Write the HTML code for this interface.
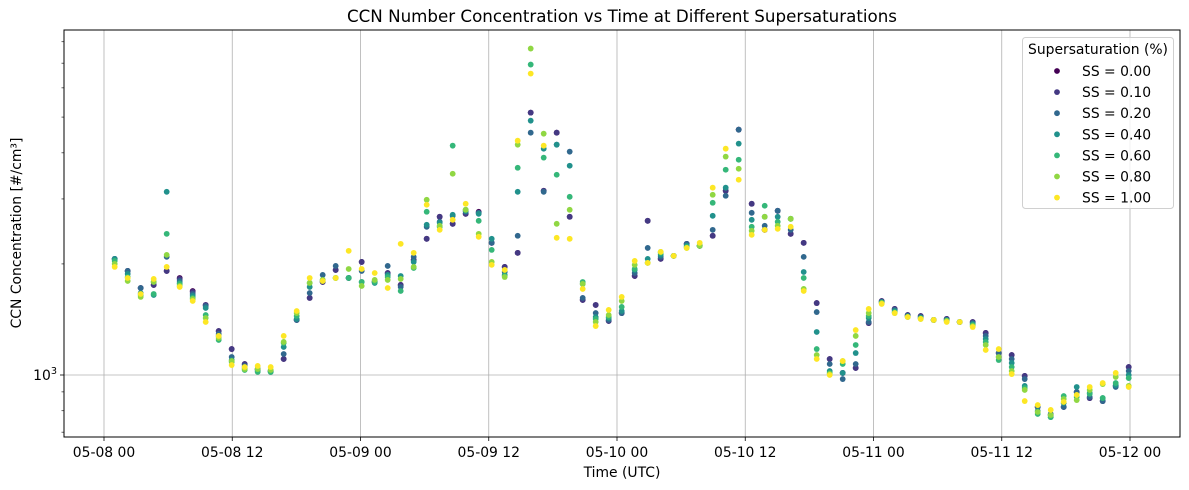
<!DOCTYPE html>
<html><head><meta charset="utf-8"><title>CCN Number Concentration vs Time</title>
<style>
html,body{margin:0;padding:0;background:#fff;}
svg{display:block;font-family:"DejaVu Sans","Liberation Sans",sans-serif;}
</style></head>
<body>
<svg id="chart" width="1189" height="490" viewBox="0 0 1189 490" xmlns="http://www.w3.org/2000/svg">
<rect width="1189" height="490" fill="#fff"/>
<text x="622" y="22" font-size="16.7" text-anchor="middle">CCN Number Concentration vs Time at Different Supersaturations</text>
<text x="622" y="477" font-size="13.9" text-anchor="middle">Time (UTC)</text>
<text transform="translate(21,233) rotate(-90)" font-size="13.9" text-anchor="middle">CCN Concentration [#/cm³]</text>
<g id="grid"></g>
<g id="marks"></g>
<g id="axes"></g>
<g id="legend"></g>
</svg>
<script>
const xTickHours = [0, 12, 24, 36, 48, 60, 72, 84, 96];
const xTickLabels = ["05-08 00","05-08 12","05-09 00","05-09 12","05-10 00","05-10 12","05-11 00","05-11 12","05-12 00"];
const yMinorTicks = [700, 800, 900, 2000, 3000, 4000, 5000, 6000, 7000, 8000];
const seriesLabels = ["SS = 0.00","SS = 0.10","SS = 0.20","SS = 0.40","SS = 0.60","SS = 0.80","SS = 1.00"];
const seriesColors = ["#440154","#443983","#31688e","#21918c","#35b779","#90d743","#fde725"];
const sampleStepHours = 1.2164;
const firstSampleHour = 1.0;

const ss000 = [2064,1914,1721,1754,1914,1832,1689,1548,1316,1176,1071,1038,1025,1105,1410,1618,1787,1926,1832,2025,1787,1890,1754,2051,2339,2684,2569,2734,2769,2281,1963,2143,5140,3157,4536,2684,1597,1548,1401,1472,1855,2617,2064,2103,2267,2239,2384,3157,4622,2911,2474,2786,2413,2281,1567,1105,1013,1045,1383,1587,1510,1454,1445,1410,1419,1392,1392,1300,1147,1133,994,819,779,819,899,866,850,934,1051];
const ss010 = [2064,1914,1721,1754,1914,1821,1679,1548,1316,1176,1071,1038,1025,1105,1410,1618,1787,1926,1832,2025,1787,1890,1754,2051,2339,2684,2569,2734,2751,2281,1963,2143,5140,3157,4536,2684,1597,1548,1401,1472,1855,2617,2064,2103,2267,2239,2384,3157,4622,2911,2474,2786,2413,2281,1567,1105,1013,1045,1383,1587,1510,1454,1445,1410,1419,1392,1392,1300,1147,1133,994,819,779,819,899,866,850,934,1051];
const ss020 = [2064,1914,1721,1787,2090,1798,1658,1538,1292,1119,1058,1032,1025,1140,1410,1668,1867,1975,1832,1914,1798,1975,1732,2090,2521,2601,2700,2769,2751,2281,1902,2384,4536,3137,4209,4029,1618,1472,1410,1472,1890,2210,2090,2103,2267,2239,2474,3060,4622,2751,2537,2786,2474,2090,1481,1071,975,1071,1392,1577,1501,1445,1436,1410,1410,1392,1383,1276,1147,1105,975,819,784,819,899,872,850,928,1025];
const ss040 = [2064,1879,1668,1648,3137,1776,1638,1519,1276,1098,1045,1025,1019,1191,1419,1732,1810,1832,1832,1787,1776,1867,1855,2025,2553,2585,2717,2786,2734,2339,1867,3137,4889,4105,4209,3691,1765,1436,1427,1491,1926,2064,2116,2103,2239,2239,2700,3218,4236,2634,2684,2684,2650,1902,1308,1025,1013,1147,1427,1577,1491,1445,1427,1410,1410,1392,1375,1252,1119,1078,934,799,769,839,928,894,866,939,1000];
const ss060 = [2038,1843,1648,1658,2413,1765,1618,1454,1244,1085,1032,1019,1019,1221,1445,1776,1798,1832,1832,1787,1787,1843,1689,1950,2769,2521,4183,2804,2617,2183,1855,3644,6938,3882,3489,3040,1787,1419,1436,1529,1938,2013,2143,2103,2225,2239,2929,3600,3832,2521,2875,2601,2650,1832,1176,1013,1071,1206,1445,1567,1481,1436,1427,1410,1401,1392,1366,1229,1098,1051,922,784,769,877,872,889,866,951,981];
const ss080 = [2000,1798,1628,1787,2116,1743,1607,1427,1260,1091,1038,1038,1032,1229,1472,1776,1810,1832,1938,1743,1810,1810,1821,1963,2984,2537,3511,2804,2413,2025,1843,4209,7668,4508,2569,2804,1765,1392,1454,1587,1988,2013,2156,2103,2210,2239,3079,3906,3622,2459,2684,2537,2650,1711,1133,1006,1091,1276,1472,1567,1472,1436,1419,1410,1401,1392,1357,1206,1119,1025,911,794,779,861,855,911,945,988,934];
const ss100 = [1963,1832,1658,1821,1963,1732,1587,1392,1276,1064,1051,1058,1051,1276,1491,1832,1798,1832,2170,1938,1890,1721,2267,2143,2893,2474,2634,2911,2369,1988,1926,4315,6558,4183,2354,2339,1711,1357,1501,1628,2038,2013,2156,2103,2210,2281,3218,4105,3382,2398,2474,2489,2521,1689,1105,1000,1091,1324,1510,1558,1472,1436,1419,1410,1392,1392,1349,1169,1176,1006,850,829,804,845,883,928,951,1013,928];
const seriesData = [ss000, ss010, ss020, ss040, ss060, ss080, ss100];

const NS = "http://www.w3.org/2000/svg";
const plot = {left: 64, right: 1180, top: 30, bottom: 437};
const xHour0 = 104, pxPerHour = 10.6875;
const yRef = 375, pxPerDecade = 369;
function xScale(h){ return xHour0 + h * pxPerHour; }
function yScale(v){ return yRef - pxPerDecade * Math.log10(v / 1000); }
function mk(tag, attrs, parent){
  const el = document.createElementNS(NS, tag);
  for (const k in attrs) el.setAttribute(k, attrs[k]);
  parent.appendChild(el);
  return el;
}
const grid = document.getElementById('grid');
const marks = document.getElementById('marks');
const axes = document.getElementById('axes');
const legend = document.getElementById('legend');

// grid
xTickHours.forEach((h, i) => {
  const x = xScale(h);
  const g = mk('line', {x1:x, x2:x, y1:plot.top, y2:plot.bottom, stroke:'#b0b0b0', 'stroke-width':0.8}, grid);
  
  
});
const yg = mk('line', {x1:plot.left, x2:plot.right, y1:yScale(1000), y2:yScale(1000), stroke:'#b0b0b0', 'stroke-width':0.8}, grid);



// points
seriesData.forEach((arr, s) => {
  const g = mk('g', {fill: seriesColors[s]}, marks);
  
  
  arr.forEach((v, i) => {
    const h = firstSampleHour + i * sampleStepHours;
    const c = mk('circle', {cx: xScale(h).toFixed(2), cy: yScale(v).toFixed(2), r: 2.9}, g);
    
    
  });
});

// axes frame
const frame = mk('rect', {x:plot.left, y:plot.top, width:plot.right-plot.left, height:plot.bottom-plot.top, fill:'none', stroke:'#000', 'stroke-width':1}, axes);



xTickHours.forEach((h, i) => {
  const x = xScale(h);
  const t = mk('line', {x1:x, x2:x, y1:plot.bottom, y2:plot.bottom+4, stroke:'#000', 'stroke-width':0.8}, axes);
  
  
  const lb = mk('text', {x:x, y:plot.bottom+20, 'font-size':13.9, 'text-anchor':'middle'}, axes);
  lb.textContent = xTickLabels[i];
  
  
});
yMinorTicks.forEach(v => {
  const y = yScale(v);
  if (y < plot.top || y > plot.bottom) return;
  const t = mk('line', {x1:plot.left-2.5, x2:plot.left, y1:y, y2:y, stroke:'#000', 'stroke-width':0.6}, axes);
  
  
});
const yMaj = mk('line', {x1:plot.left-4, x2:plot.left, y1:yScale(1000), y2:yScale(1000), stroke:'#000', 'stroke-width':0.8}, axes);


const yl = mk('text', {x:plot.left-7, y:yScale(1000)+5, 'font-size':13.9, 'text-anchor':'end'}, axes);


yl.innerHTML = '10<tspan dy="-6" font-size="9.7">3</tspan>';

// legend
const lbox = mk('rect', {x:1022.5, y:37.5, width:151, height:171, rx:3, fill:'#fff', 'fill-opacity':0.8, stroke:'#d0d0d0', 'stroke-width':1}, legend);


const lt = mk('text', {x:1098, y:54, 'font-size':13.9, 'text-anchor':'middle'}, legend);
lt.textContent = 'Supersaturation (%)';


seriesLabels.forEach((lab, s) => {
  const y = 71 + s * 21.1;
  const e = mk('g', {}, legend);
  
  
  mk('circle', {cx:1057, cy:y, r:2.9, fill:seriesColors[s]}, e);
  const t = mk('text', {x:1082, y:y+5, 'font-size':13.9}, e);
  t.textContent = lab;
});
</script>
</body></html>
